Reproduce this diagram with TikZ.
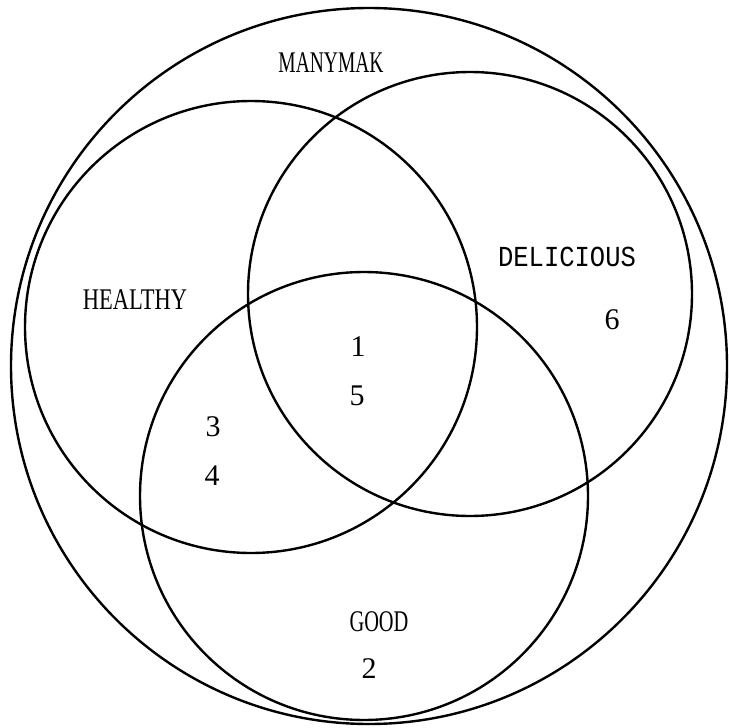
\documentclass[tikz,border=0pt]{standalone}
\usepackage{fontspec}
\setmainfont{Liberation Serif}
\newfontfamily\typefont{Liberation Mono}
\begin{document}
\begin{tikzpicture}[x=1pt,y=-1pt,
  venn/.style={draw=black,line width=2.4pt},
  lbl/.style={inner sep=0pt,font=\fontsize{30}{32}\selectfont},
  num/.style={inner sep=0pt,font=\fontsize{30}{32}\selectfont}]
\useasboundingbox (0,0) rectangle (728,728);
% MANYMAK (outer)
\draw[venn] (369,366) circle[radius=358];
% HEALTHY
\draw[venn] (251,327) circle[radius=226];
% DELICIOUS
\draw[venn] (470,294) circle[radius=222];
% GOOD
\draw[venn] (364,496) circle[radius=224];
% labels
\node[lbl,xscale=0.65] (manymak) at (331,63) {MANYMAK};
\node[lbl,xscale=0.75] (healthy) at (135,300) {HEALTHY};
\node[lbl,font=\typefont\fontsize{29}{32}\selectfont,xscale=0.88] (delicious) at (567,257) {DELICIOUS};
\node[lbl,xscale=0.68] (good) at (379,622) {GOOD};
\node[num] (n6) at (612,320) {6};
\node[num] (n1) at (358,347) {1};
\node[num] (n5) at (357,396) {5};
\node[num] (n3) at (213,427) {3};
\node[num] (n4) at (212,476) {4};
\node[num] (n2) at (369,669) {2};
\end{tikzpicture}
\end{document}
